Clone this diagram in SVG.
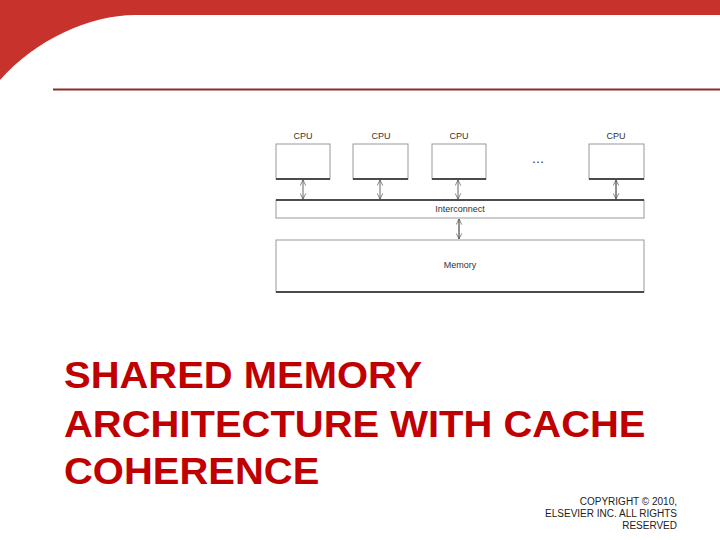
<svg xmlns="http://www.w3.org/2000/svg" width="720" height="540" viewBox="0 0 720 540">
<style>
.box{fill:#fff;stroke:#999;stroke-width:1}
.edge{stroke:#222;stroke-width:1.5}
.lbl{font-family:"Liberation Sans",Arial,sans-serif;font-size:9px;fill:#333;text-anchor:middle}
.conn{stroke:#666;stroke-width:1;fill:none;marker-start:url(#ah);marker-end:url(#ah)}
.title{font-family:"Liberation Sans",Arial,sans-serif;font-weight:bold;font-size:37px;fill:#C00000}
.copy{font-family:"Liberation Sans",Arial,sans-serif;font-size:10px;fill:#222;text-anchor:end}
</style>
<defs>
<marker id="ah" viewBox="0 0 10 10" refX="9" refY="5" markerWidth="7" markerHeight="7" orient="auto-start-reverse" markerUnits="userSpaceOnUse">
<path d="M1,1 L9,5 L1,9" fill="none" stroke="#555" stroke-width="1"/>
</marker>
</defs>
<rect width="720" height="540" fill="#fff"/>
<path d="M0,0 H720 V15 H135 C90,15 35,40 0,80 Z" fill="#C8322D"/>
<line x1="53" y1="89.5" x2="720" y2="89.5" stroke="#8E2A28" stroke-width="2"/>
<g id="cpu1"><rect class="box" x="276" y="144" width="54" height="35"/><line class="edge" x1="276" y1="179" x2="330" y2="179"/><text class="lbl" x="303" y="139">CPU</text></g>
<g id="cpu2"><rect class="box" x="353" y="144" width="55" height="35"/><line class="edge" x1="353" y1="179" x2="408" y2="179"/><text class="lbl" x="381" y="139">CPU</text></g>
<g id="cpu3"><rect class="box" x="432" y="144" width="54" height="35"/><line class="edge" x1="432" y1="179" x2="486" y2="179"/><text class="lbl" x="459" y="139">CPU</text></g>
<g id="cpu4"><rect class="box" x="589" y="144" width="55" height="35"/><line class="edge" x1="589" y1="179" x2="644" y2="179"/><text class="lbl" x="616" y="139">CPU</text></g>
<g id="dots"><text class="lbl" x="538" y="163" style="font-size:13px;fill:#333">…</text></g>
<g id="interconnect"><rect class="box" x="276" y="200" width="368" height="18"/><line class="edge" x1="276" y1="200" x2="644" y2="200"/><text class="lbl" x="460" y="212">Interconnect</text></g>
<g id="memory"><rect class="box" x="276" y="240" width="368" height="52"/><line class="edge" x1="276" y1="292" x2="644" y2="292"/><text class="lbl" x="460" y="268">Memory</text></g>
<g id="connectors">
<line class="conn" x1="303" y1="180" x2="303" y2="199"/>
<line class="conn" x1="380" y1="180" x2="380" y2="199"/>
<line class="conn" x1="458" y1="180" x2="458" y2="199"/>
<line class="conn" x1="616" y1="180" x2="616" y2="199" style="stroke:#222"/>
<line class="conn" x1="459" y1="219" x2="459" y2="239" style="stroke:#222"/>
</g>
<g transform="translate(64,0) scale(1.08,1)">
<text class="title" x="0" y="388">SHARED MEMORY</text>
<text class="title" x="0" y="437">ARCHITECTURE WITH CACHE</text>
<text class="title" x="0" y="484">COHERENCE</text>
</g>
<text class="copy" x="677" y="505">COPYRIGHT © 2010,</text>
<text class="copy" x="677" y="517">ELSEVIER INC. ALL RIGHTS</text>
<text class="copy" x="677" y="529">RESERVED</text>
</svg>
